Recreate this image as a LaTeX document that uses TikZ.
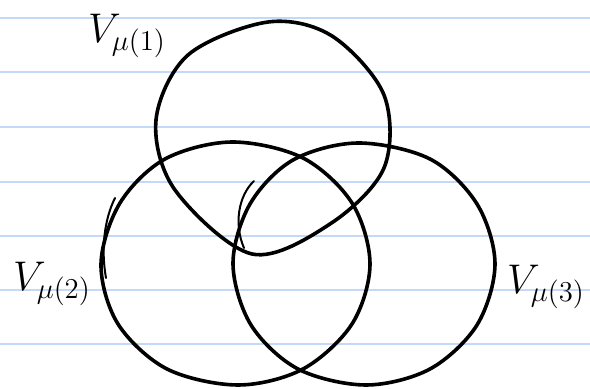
\documentclass[tikz,border=0pt]{standalone}
\usepackage{amsmath,amssymb}
\usepackage{xcolor}
\usepackage{tikz}
\usetikzlibrary{positioning}

\definecolor{ruled}{RGB}{196,216,248}

\begin{document}
\begin{tikzpicture}[
    x=0.5pt, y=-0.5pt,
    ruling/.style={ruled, line width=0.8pt},
    loopline/.style={black, line width=1.8pt, line cap=round, line join=round},
    extra/.style={black, line width=1pt, line cap=round},
    lab/.style={font=\huge, inner sep=0pt}
]
\useasboundingbox (0,0) rectangle (590,389);

% Ruled paper
\foreach \yy in {18,72,127,182,236,290,344}
    \draw[ruling] (0,\yy) -- (590,\yy);

% Set mu(1), top
\draw[loopline] plot[smooth cycle, tension=0.55] coordinates {
    (268,22) (188,55) (156,120) (175,190) (252,254)
    (330,224) (384,168) (384,95) (332,36)};

% Set mu(2), left
\draw[loopline] plot[smooth cycle, tension=0.55] coordinates {
    (370,264) (352,203) (303,158) (232,142) (165,159) (120,203)
    (101,264) (118,324) (167,369) (238,385) (303,369) (352,324)};

% Set mu(3), right
\draw[loopline] plot[smooth cycle, tension=0.55] coordinates {
    (495,264) (477,204) (430,159) (358,143) (293,160) (250,204)
    (233,264) (251,325) (298,369) (366,385) (430,369) (477,325)};

% Retraced strokes
\draw[extra] (115,198) .. controls (104,220) and (101,250) .. (106,278);
\draw[extra] (254,181) .. controls (238,196) and (234,225) .. (244,248);

% Labels
\node[lab] (l1) at (127,36) {$V_{\mu(1)}$};
\node[lab] (l2) at (52,284) {$V_{\mu(2)}$};
\node[lab] (l3) at (546,287) {$V_{\mu(3)}$};

\end{tikzpicture}
\end{document}
